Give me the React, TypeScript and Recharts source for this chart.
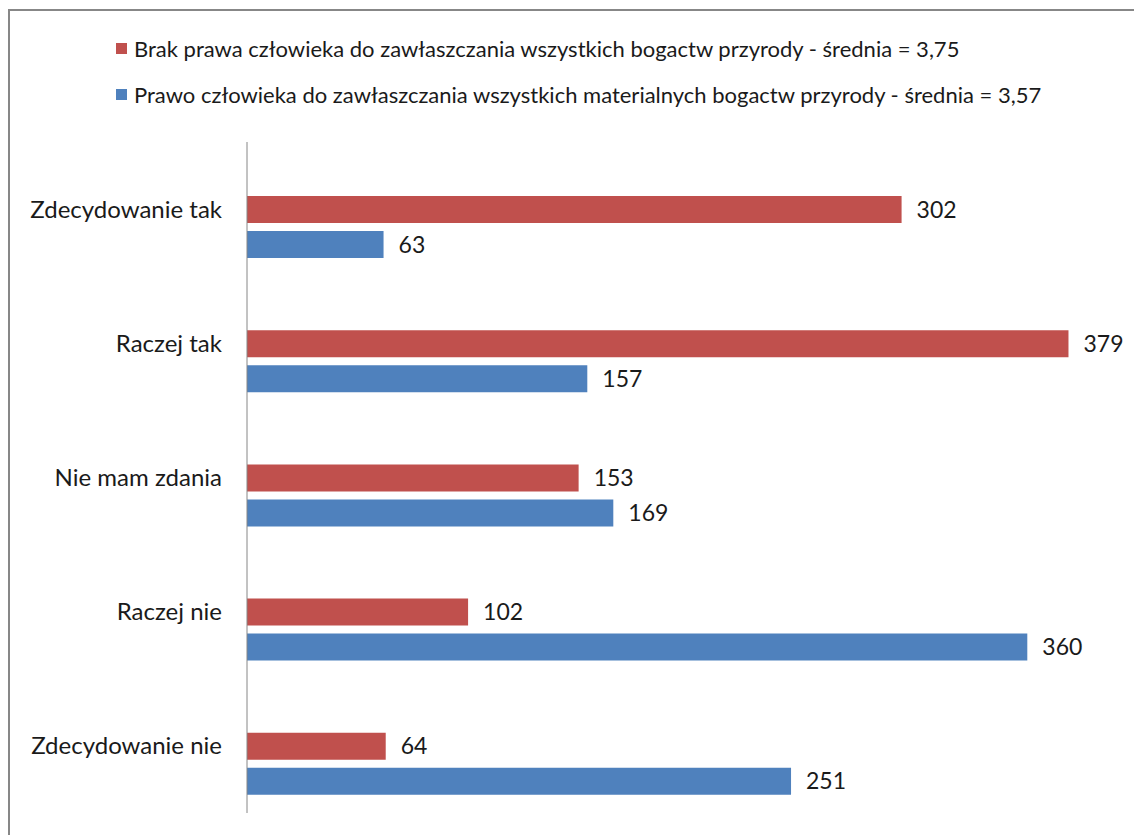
import { BarChart, Bar, XAxis, YAxis, LabelList } from 'recharts';

const categories = ['Zdecydowanie tak', 'Raczej tak', 'Nie mam zdania', 'Raczej nie', 'Zdecydowanie nie'];
const brakValues = [302, 379, 153, 102, 64];
const prawoValues = [63, 157, 169, 360, 251];
const seriesNames = [
  'Brak prawa człowieka do zawłaszczania wszystkich bogactw przyrody - średnia = 3,75',
  'Prawo człowieka do zawłaszczania wszystkich materialnych bogactw przyrody - średnia = 3,57',
];
const seriesColors = ['#C0504D', '#4F81BD'];

const data = categories.map((name, i) => ({ name, brak: brakValues[i], prawo: prawoValues[i] }));

const font = 'Lato, "Open Sans", sans-serif';

export default function App() {
  return (
    <div
      style={{
        position: 'fixed',
        left: 0,
        top: 0,
        width: 1134,
        height: 835,
        background: '#ffffff',
        overflow: 'hidden',
        fontFamily: font,
      }}
    >
      <div
        style={{
          position: 'absolute',
          left: 8,
          top: 9,
          width: 1300,
          height: 1000,
          borderLeft: '2px solid #878787',
          borderTop: '2px solid #878787',
        }}
      />
      {seriesNames.map((name, i) => (
        <div
          key={name}
          style={{
            position: 'absolute',
            left: 116,
            top: 34 + i * 46,
            height: 28,
            display: 'flex',
            alignItems: 'center',
            fontSize: 22,
            color: '#1a1a1a',
            whiteSpace: 'nowrap',
          }}
        >
          <span style={{ width: 11, height: 11, background: seriesColors[i], marginRight: 7 }} />
          {name}
        </div>
      ))}
      <div style={{ position: 'absolute', left: 0, top: 0 }}>
        <BarChart
          width={1134}
          height={835}
          data={data}
          layout="vertical"
          margin={{ top: 142, right: 20, left: 0, bottom: 22 }}
          barCategoryGap={19}
          barGap={8}
        >
          <XAxis type="number" domain={[0, 400]} hide />
          <YAxis
            type="category"
            dataKey="name"
            width={247}
            tickLine={false}
            tickSize={0}
            tickMargin={25}
            axisLine={{ stroke: '#868686', strokeWidth: 1 }}
            tick={{ fill: '#1a1a1a', fontSize: 24, fontFamily: font }}
          />
          <Bar dataKey="hidden" fill="none" legendType="none" isAnimationActive={false} />
          <Bar dataKey="brak" fill={seriesColors[0]} isAnimationActive={false}>
            <LabelList dataKey="brak" position="right" offset={15} fill="#1a1a1a" fontSize={23} fontFamily={font} />
          </Bar>
          <Bar dataKey="prawo" fill={seriesColors[1]} isAnimationActive={false}>
            <LabelList dataKey="prawo" position="right" offset={15} fill="#1a1a1a" fontSize={23} fontFamily={font} />
          </Bar>
        </BarChart>
      </div>
    </div>
  );
}
